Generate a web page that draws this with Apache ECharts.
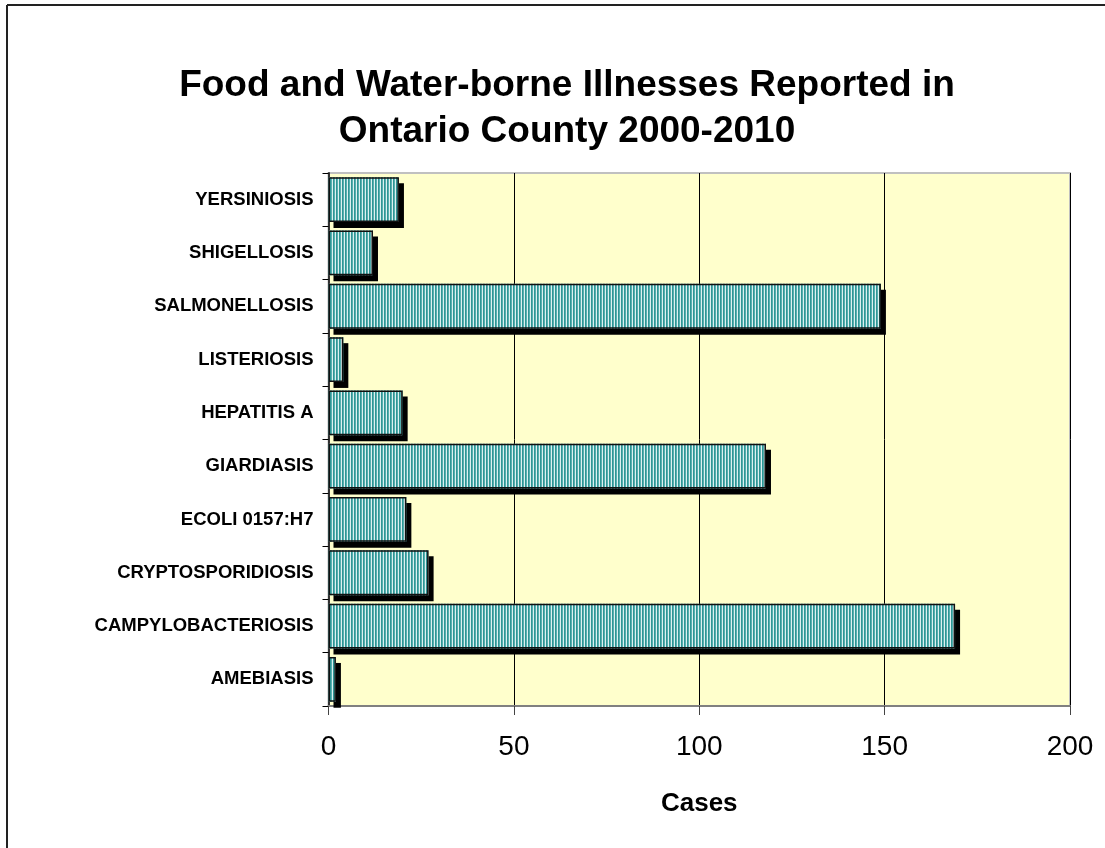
<!DOCTYPE html>
<html>
<head>
<meta charset="utf-8">
<script src="https://cdn.jsdelivr.net/npm/echarts@6/dist/echarts.min.js"></script>
<style>
  html, body { margin: 0; padding: 0; background: #fff; }
  #chart { width: 1105px; height: 848px; }
</style>
</head>
<body>
<div id="chart"></div>
<script>
"use strict";

// categories listed bottom to top, as the axis draws them
let illnesses = ["AMEBIASIS", "CAMPYLOBACTERIOSIS", "CRYPTOSPORIDIOSIS", "ECOLI 0157:H7",
    "GIARDIASIS", "HEPATITIS A", "LISTERIOSIS", "SALMONELLOSIS", "SHIGELLOSIS", "YERSINIOSIS"];
let cases = [2, 169, 27, 21, 118, 20, 4, 149, 12, 19];
let caseTicks = [0, 50, 100, 150, 200];

// striped fill like the old spreadsheet pattern
function stripePattern() {
    let c = document.createElement("canvas");
    c.width = 3;
    c.height = 4;
    let ctx = c.getContext("2d");
    let cols = ["#2f9494", "#56b0b0", "#dcf0f0"];
    for (let i = 0; i < cols.length; i++) {
        ctx.fillStyle = cols[i];
        ctx.fillRect(i, 0, 1, 4);
    }
    return c;
}

let chart = echarts.init(document.getElementById("chart"), null, { renderer: "canvas" });

chart.setOption({
    animation: false,
    backgroundColor: "#fff",
    textStyle: { fontFamily: "Liberation Sans, Arial, sans-serif" },
    title: {
        text: "Food and Water-borne Illnesses Reported in\nOntario County 2000-2010",
        left: 562,
        top: 58,
        textAlign: "center",
        textStyle: {
            fontFamily: "Liberation Sans, Arial, sans-serif",
            fontSize: 37,
            fontWeight: "bold",
            color: "#000",
            lineHeight: 46
        }
    },
    grid: {
        left: 328.5,
        right: 35,
        top: 173,
        bottom: 142,
        show: true,
        backgroundColor: "#FFFFCC",
        borderColor: "#c0c0c0",
        borderWidth: 2
    },
    xAxis: {
        type: "value",
        min: caseTicks[0],
        max: caseTicks[caseTicks.length - 1],
        interval: 50,
        name: "Cases",
        nameLocation: "middle",
        nameGap: 85,
        nameTextStyle: { fontSize: 26, fontWeight: "bold", color: "#000" },
        axisLine: { show: true, lineStyle: { color: "#808080", width: 2 } },
        axisTick: { show: true, length: 9, lineStyle: { color: "#444", width: 1 } },
        axisLabel: { fontSize: 28, color: "#000", margin: 27 },
        splitLine: { show: true, lineStyle: { color: "#000", width: 1 } }
    },
    yAxis: {
        type: "category",
        data: illnesses,
        axisLine: { show: true, lineStyle: { color: "#333", width: 2 } },
        axisTick: { show: true, length: 6, lineStyle: { color: "#000", width: 1 } },
        axisLabel: { fontSize: 18.5, fontWeight: "bold", color: "#000", margin: 15 },
        splitLine: { show: false }
    },
    series: [{
        // striped fill with the drop shadow
        type: "bar",
        data: cases,
        barCategoryGap: "16%",
        itemStyle: {
            color: { image: stripePattern(), repeat: "repeat" },
            borderWidth: 0,
            shadowColor: "#000",
            shadowBlur: 0,
            shadowOffsetX: 5,
            shadowOffsetY: 6
        }
    }, {
        // outline drawn over the same bars
        type: "bar",
        data: cases,
        barGap: "-100%",
        barCategoryGap: "16%",
        silent: true,
        itemStyle: {
            color: "rgba(0,0,0,0)",
            borderColor: "#111",
            borderWidth: 1.5
        }
    }],
    graphic: [
        { type: "line", shape: { x1: 7, y1: 5, x2: 7, y2: 848 }, style: { stroke: "#222", lineWidth: 2 } },
        { type: "line", shape: { x1: 7, y1: 5, x2: 1105, y2: 5 }, style: { stroke: "#222", lineWidth: 2 } }
    ]
});
</script>
</body>
</html>
